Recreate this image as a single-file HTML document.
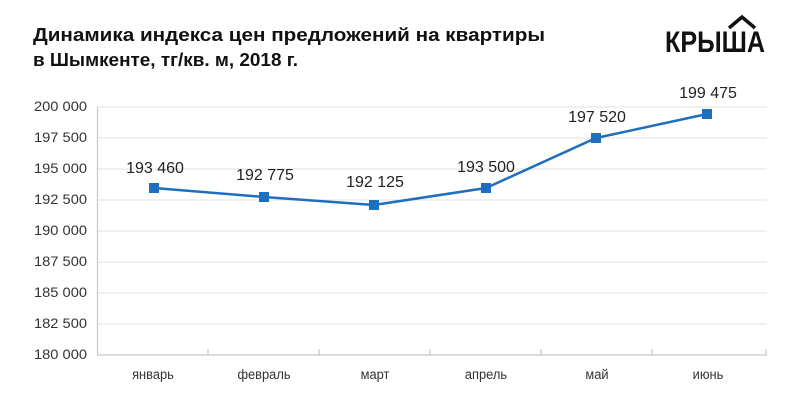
<!DOCTYPE html>
<html><head><meta charset="utf-8"><style>
html,body{margin:0;padding:0;background:#fff;}
svg{display:block;}
</style></head><body>
<svg width="800" height="403" viewBox="0 0 800 403" xmlns="http://www.w3.org/2000/svg" font-family="Liberation Sans, sans-serif">
<rect width="800" height="403" fill="#fff"/>
<text x="33" y="41" font-size="18" font-weight="bold" fill="#111" textLength="512" lengthAdjust="spacingAndGlyphs">Динамика индекса цен предложений на квартиры</text>
<text x="33" y="66" font-size="18" font-weight="bold" fill="#111" textLength="265" lengthAdjust="spacingAndGlyphs">в Шымкенте, тг/кв. м, 2018 г.</text>
<!-- logo -->
<text x="665" y="52" font-size="30" font-weight="bold" fill="#111" textLength="100" lengthAdjust="spacingAndGlyphs">КРЫША</text>
<polyline points="729,28 742,17 755,28" fill="none" stroke="#111" stroke-width="3.5"/>
<!-- grid -->
<g stroke="#e2e2e2" stroke-width="1">
<line x1="97" y1="107" x2="767" y2="107"/>
<line x1="97" y1="138" x2="767" y2="138"/>
<line x1="97" y1="169" x2="767" y2="169"/>
<line x1="97" y1="200" x2="767" y2="200"/>
<line x1="97" y1="231" x2="767" y2="231"/>
<line x1="97" y1="262" x2="767" y2="262"/>
<line x1="97" y1="293" x2="767" y2="293"/>
<line x1="97" y1="324" x2="767" y2="324"/>
</g>
<g stroke="#c8c8c8" stroke-width="1.2">
<line x1="97.5" y1="107" x2="97.5" y2="355"/>
<line x1="97" y1="355" x2="767" y2="355"/>
<line x1="208" y1="349" x2="208" y2="355"/>
<line x1="319" y1="349" x2="319" y2="355"/>
<line x1="430" y1="349" x2="430" y2="355"/>
<line x1="541" y1="349" x2="541" y2="355"/>
<line x1="652" y1="349" x2="652" y2="355"/>
<line x1="766" y1="349" x2="766" y2="355"/>
</g>
<g font-size="14" fill="#333">
<text x="34" y="111" textLength="53" lengthAdjust="spacingAndGlyphs">200 000</text>
<text x="34" y="142" textLength="53" lengthAdjust="spacingAndGlyphs">197 500</text>
<text x="34" y="173" textLength="53" lengthAdjust="spacingAndGlyphs">195 000</text>
<text x="34" y="204" textLength="53" lengthAdjust="spacingAndGlyphs">192 500</text>
<text x="34" y="235" textLength="53" lengthAdjust="spacingAndGlyphs">190 000</text>
<text x="34" y="266" textLength="53" lengthAdjust="spacingAndGlyphs">187 500</text>
<text x="34" y="297" textLength="53" lengthAdjust="spacingAndGlyphs">185 000</text>
<text x="34" y="328" textLength="53" lengthAdjust="spacingAndGlyphs">182 500</text>
<text x="34" y="359" textLength="53" lengthAdjust="spacingAndGlyphs">180 000</text>
</g>
<g font-size="14" fill="#333" text-anchor="middle">
<text x="153" y="379" transform="translate(153 0) scale(0.92 1) translate(-153 0)">январь</text>
<text x="264" y="379" transform="translate(264 0) scale(0.92 1) translate(-264 0)">февраль</text>
<text x="375" y="379" transform="translate(375 0) scale(0.92 1) translate(-375 0)">март</text>
<text x="486" y="379" transform="translate(486 0) scale(0.92 1) translate(-486 0)">апрель</text>
<text x="597" y="379" transform="translate(597 0) scale(0.92 1) translate(-597 0)">май</text>
<text x="708" y="379" transform="translate(708 0) scale(0.92 1) translate(-708 0)">июнь</text>
</g>
<polyline points="154,188 264,197 374,205 486,188 596,138 707,114" fill="none" stroke="#1f6fbf" stroke-width="2.5"/>
<g fill="#1f6fbf">
<rect x="149" y="183" width="10" height="10"/>
<rect x="259" y="192" width="10" height="10"/>
<rect x="369" y="200" width="10" height="10"/>
<rect x="481" y="183" width="10" height="10"/>
<rect x="591" y="133" width="10" height="10"/>
<rect x="702" y="109" width="10" height="10"/>
</g>
<g font-size="16" fill="#222" text-anchor="middle">
<text x="155" y="173">193 460</text>
<text x="265" y="180">192 775</text>
<text x="375" y="187">192 125</text>
<text x="486" y="172">193 500</text>
<text x="597" y="122">197 520</text>
<text x="708" y="98">199 475</text>
</g>
</svg>
</body></html>
